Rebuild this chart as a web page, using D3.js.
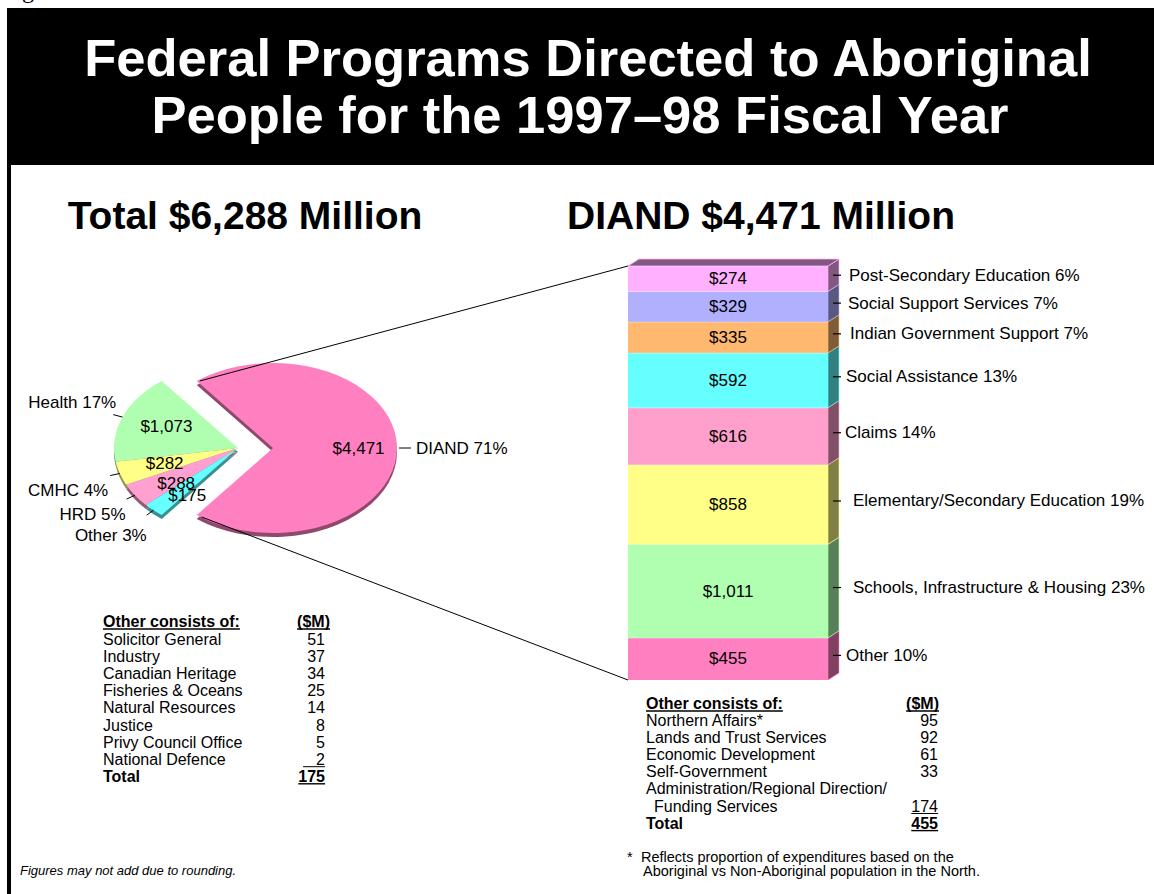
<!DOCTYPE html>
<html><head><meta charset="utf-8">
<script src="https://cdn.jsdelivr.net/npm/d3@7"></script>
<style>
body{margin:0;background:#fff}
svg{display:block}
text{font-family:"Liberation Sans",Arial,Helvetica,sans-serif;fill:#000}
</style>
</head><body>
<svg id="c" width="1154" height="894"></svg>
<script>
// ---------------- DATA ----------------
const titleLines = ["Federal Programs Directed to Aboriginal", "People for the 1997\u201398 Fiscal Year"];
const leftSubtitle = "Total $6,288 Million";
const rightSubtitle = "DIAND $4,471 Million";

const pieCategories = ["Health", "CMHC", "HRD", "Other", "DIAND"];
const pieValues = [1073, 282, 288, 175, 4471];
const piePercents = [17, 4, 5, 3, 71];

// bottom to top
const barCategories = ["Other", "Schools, Infrastructure & Housing", "Elementary/Secondary Education", "Claims",
  "Social Assistance", "Indian Government Support", "Social Support Services", "Post-Secondary Education"];
const barValues = [455, 1011, 858, 616, 592, 335, 329, 274];
const barPercents = [10, 23, 19, 14, 13, 7, 7, 6];

const leftTableNames = ["Solicitor General", "Industry", "Canadian Heritage", "Fisheries & Oceans",
  "Natural Resources", "Justice", "Privy Council Office", "National Defence"];
const leftTableValues = [51, 37, 34, 25, 14, 8, 5, 2];
const leftTableTotal = 175;

const rightTableNames = ["Northern Affairs*", "Lands and Trust Services", "Economic Development", "Self-Government",
  "Administration/Regional Direction/|Funding Services"];
const rightTableValues = [95, 92, 61, 33, 174];
const rightTableTotal = 455;

const footLeft = "Figures may not add due to rounding.";
const footRight = ["Reflects proportion of expenditures based on the", "Aboriginal vs Non-Aboriginal population in the North."];

// ---------------- STYLE ----------------
const pieColors = ["#b0ffb0", "#ffff88", "#ffa0d0", "#66ffff", "#ff80c0"];
const barColors = ["#ff80c0", "#b0ffb0", "#ffff88", "#ffa0cc", "#66ffff", "#ffb870", "#b0b0ff", "#ffb0ff"];
const pieLabelR = [0.62, 0.62, 0.6, 0.6, 0.69];
const pieLabelDy = [-2, 0, 7, 10, 0];
const pieOutOffsets = [[3, -12], [-2, 15], [-1, 15], [0, 20]];
const barLabelGap = [18, 25, 25, 17, 18, 22, 20, 21];

const svg = d3.select("#c");
const W = 1154, H = 894;
const fmt = d3.format("$,.0f");

// background / frame
svg.append("rect").attr("width", W).attr("height", H).attr("fill", "#fff");
svg.append("text").attr("x", 2).attr("y", -2)
  .style("font-family", "'Liberation Serif',serif").attr("font-size", 24).text("Figure");
svg.append("rect").attr("x", 7).attr("y", 8).attr("width", W - 7).attr("height", 157).attr("fill", "#000");
svg.append("rect").attr("x", 7).attr("y", 8).attr("width", 4).attr("height", H - 8).attr("fill", "#000");

// title
svg.selectAll("text.title").data(titleLines).join("text").attr("class", "title")
  .attr("x", (d, i) => i ? 580 : 588).attr("y", (d, i) => 76 + i * 57)
  .attr("text-anchor", "middle").attr("font-size", 52.5).attr("font-weight", "bold")
  .style("fill", "#fff").text(d => d);

// subtitles
svg.append("text").attr("x", 245).attr("y", 229).attr("text-anchor", "middle")
  .attr("font-size", 39).attr("font-weight", "bold").text(leftSubtitle);
svg.append("text").attr("x", 761).attr("y", 229).attr("text-anchor", "middle")
  .attr("font-size", 39).attr("font-weight", "bold").text(rightSubtitle);

// ---------------- PIE ----------------
const cx0 = 255, cy0 = 448, rx = 124, ry = 85, depth = 4;
const total = d3.sum(pieValues);
const othersShare = 1 - pieValues[4] / total;
const startA = (270 + othersShare * 180) * Math.PI / 180;
const pieGen = d3.pie().sort(null).value(d => d).startAngle(startA).endAngle(startA - 2 * Math.PI);
const arcs = pieGen(pieValues);
const arcGen = d3.arc().innerRadius(0).outerRadius(rx);
const explode = [17, 17, 17, 17, 18];
function off(i) {
  const m = i === 4 ? Math.PI / 2 : 3 * Math.PI / 2;
  return [explode[i] * Math.sin(m), -explode[i] * Math.cos(m) * ry / rx];
}
function pt(a, r, i) {
  const o = off(i);
  return [cx0 + o[0] + r * rx * Math.sin(a), cy0 + o[1] - r * ry * Math.cos(a)];
}
const pieG = svg.append("g");
arcs.forEach((a, i) => {
  const o = off(i);
  pieG.append("path").attr("d", arcGen(a))
    .attr("transform", `translate(${cx0 + o[0]},${cy0 + o[1] + depth}) scale(1,${ry / rx})`)
    .attr("fill", d3.color(pieColors[i]).darker(1.6));
});
arcs.forEach((a, i) => {
  const o = off(i);
  pieG.append("path").attr("d", arcGen(a))
    .attr("transform", `translate(${cx0 + o[0]},${cy0 + o[1]}) scale(1,${ry / rx})`)
    .attr("fill", pieColors[i]);
});
// inside value labels
arcs.forEach((a, i) => {
  const mid = (a.startAngle + a.endAngle) / 2;
  const p = pt(mid, pieLabelR[i], i);
  pieG.append("text").attr("x", p[0]).attr("y", p[1] + pieLabelDy[i]).attr("text-anchor", "middle")
    .attr("dominant-baseline", "central").attr("font-size", 17).text(fmt(a.data));
});
// outside labels
arcs.forEach((a, i) => {
  const mid = (a.startAngle + a.endAngle) / 2;
  if (i === 4) {
    const p0 = pt(mid, 1.0, i);
    pieG.append("line").attr("x1", p0[0] + 2).attr("x2", p0[0] + 14).attr("y1", p0[1]).attr("y2", p0[1])
      .attr("stroke", "#000").attr("stroke-width", 1);
    pieG.append("text").attr("x", p0[0] + 19).attr("y", p0[1]).attr("dominant-baseline", "central")
      .attr("font-size", 17).text(`${pieCategories[i]} ${piePercents[i]}%`);
  } else {
    const p0 = pt(mid, 1.0, i), p1 = pt(mid, 1.08, i);
    pieG.append("line").attr("x1", p0[0]).attr("y1", p0[1]).attr("x2", p1[0]).attr("y2", p1[1])
      .attr("stroke", "#000").attr("stroke-width", 1);
    pieG.append("text").attr("x", p1[0] + pieOutOffsets[i][0]).attr("y", p1[1] + pieOutOffsets[i][1])
      .attr("text-anchor", "end").attr("dominant-baseline", "central")
      .attr("font-size", 17).text(`${pieCategories[i]} ${piePercents[i]}%`);
  }
});

// ---------------- STACKED BAR ----------------
const bx = 628, bw = 200, ddx = 11, ddy = -7;
const barTotal = d3.sum(barValues);
const y = d3.scaleLinear().domain([0, barTotal]).range([680, 266]);
const cum = d3.cumsum(barValues);
const segs = barValues.map((v, i) => ({ v, i, y0: i ? cum[i - 1] : 0, y1: cum[i] }));
const barG = svg.append("g");

// connector lines
const dA = arcs[4];
const up = pt(dA.endAngle, 1.0, 4), lo = pt(dA.startAngle, 1.0, 4);
svg.append("line").attr("x1", up[0] + 3).attr("y1", up[1]).attr("x2", bx).attr("y2", y(barTotal))
  .attr("stroke", "#000").attr("stroke-width", 1);
svg.append("line").attr("x1", lo[0] + 5).attr("y1", lo[1] + 2).attr("x2", bx).attr("y2", y(0))
  .attr("stroke", "#000").attr("stroke-width", 1);

segs.forEach(s => {
  const yt = y(s.y1), yb = y(s.y0);
  const c = d3.rgb(barColors[s.i]);
  const side = d3.rgb(c.r * 0.5, c.g * 0.5, c.b * 0.5);
  barG.append("path")
    .attr("d", `M${bx + bw},${yt}L${bx + bw + ddx},${yt + ddy}L${bx + bw + ddx},${yb + ddy}L${bx + bw},${yb}Z`)
    .attr("fill", side).attr("stroke", c.brighter(0.2)).attr("stroke-width", 0.6);
  barG.append("rect").attr("x", bx).attr("y", yt).attr("width", bw).attr("height", yb - yt)
    .attr("fill", c);
  barG.append("line").attr("x1", bx).attr("x2", bx + bw).attr("y1", yt).attr("y2", yt)
    .attr("stroke", "#fff").attr("stroke-opacity", 0.6).attr("stroke-width", 1);
  barG.append("text").attr("x", bx + bw / 2).attr("y", (yt + yb) / 2).attr("text-anchor", "middle")
    .attr("dominant-baseline", "central").attr("font-size", 17).text(fmt(s.v));
  const ym = (yt + yb) / 2 + ddy / 2;
  barG.append("line").attr("x1", bx + bw + 5).attr("x2", bx + bw + 13).attr("y1", ym).attr("y2", ym)
    .attr("stroke", "#000").attr("stroke-width", 1.2);
  barG.append("text").attr("x", bx + bw + barLabelGap[s.i]).attr("y", ym).attr("dominant-baseline", "central")
    .attr("font-size", 17).text(`${barCategories[s.i]} ${barPercents[s.i]}%`);
});
// top face
{
  const yt = y(barTotal);
  const c = d3.rgb(barColors[barColors.length - 1]);
  barG.append("path")
    .attr("d", `M${bx},${yt}L${bx + ddx},${yt + ddy}L${bx + bw + ddx},${yt + ddy}L${bx + bw},${yt}Z`)
    .attr("fill", d3.rgb(c.r * 0.5, c.g * 0.5, c.b * 0.5)).attr("stroke", c).attr("stroke-width", 0.8);
}

// ---------------- TABLES ----------------
function underline(sel, bold, extraLeft) {
  const b = sel.node().getBBox();
  const yy = +sel.attr("y") + 2;
  svg.append("line").attr("x1", b.x - (extraLeft || 0)).attr("x2", b.x + b.width).attr("y1", yy).attr("y2", yy)
    .attr("stroke", "#000").attr("stroke-width", bold ? 1.4 : 1);
}
const tfs = 16, rowH = 17.1;
// left table
{
  const x = 103, vr = 325, hdrR = 330, y0 = 627;
  underline(svg.append("text").attr("x", x).attr("y", y0).attr("font-size", tfs).attr("font-weight", "bold").text("Other consists of:"), true);
  underline(svg.append("text").attr("x", hdrR).attr("y", y0).attr("text-anchor", "end").attr("font-size", tfs).attr("font-weight", "bold").text("($M)"), true);
  leftTableNames.forEach((n, i) => {
    const yy = y0 + 18 + i * rowH;
    svg.append("text").attr("x", x).attr("y", yy).attr("font-size", tfs).text(n);
    const t = svg.append("text").attr("x", vr).attr("y", yy).attr("text-anchor", "end").attr("font-size", tfs).text(leftTableValues[i]);
    if (i === leftTableNames.length - 1) underline(t, false, 13);
  });
  const yt = y0 + 18 + leftTableNames.length * rowH;
  svg.append("text").attr("x", x).attr("y", yt).attr("font-size", tfs).attr("font-weight", "bold").text("Total");
  underline(svg.append("text").attr("x", vr).attr("y", yt).attr("text-anchor", "end").attr("font-size", tfs).attr("font-weight", "bold").text(leftTableTotal), true);
}
// right table
{
  const x = 646, vr = 938, hdrR = 939, y0 = 709;
  underline(svg.append("text").attr("x", x).attr("y", y0).attr("font-size", tfs).attr("font-weight", "bold").text("Other consists of:"), true);
  underline(svg.append("text").attr("x", hdrR).attr("y", y0).attr("text-anchor", "end").attr("font-size", tfs).attr("font-weight", "bold").text("($M)"), true);
  let row = 0;
  rightTableNames.forEach((n, i) => {
    const parts = n.split("|");
    parts.forEach((p, k) => {
      svg.append("text").attr("x", k ? x + 8 : x).attr("y", y0 + 17 + row * rowH).attr("font-size", tfs).text(p);
      if (k < parts.length - 1) row++;
    });
    const t = svg.append("text").attr("x", vr).attr("y", y0 + 17 + row * rowH).attr("text-anchor", "end").attr("font-size", tfs).text(rightTableValues[i]);
    if (i === rightTableNames.length - 1) underline(t, false);
    row++;
  });
  svg.append("text").attr("x", x).attr("y", y0 + 17 + row * rowH).attr("font-size", tfs).attr("font-weight", "bold").text("Total");
  underline(svg.append("text").attr("x", vr).attr("y", y0 + 17 + row * rowH).attr("text-anchor", "end").attr("font-size", tfs).attr("font-weight", "bold").text(rightTableTotal), true);
}

// ---------------- FOOTNOTES ----------------
svg.append("text").attr("x", 20).attr("y", 875).attr("font-size", 13).attr("font-style", "italic").text(footLeft);
svg.append("text").attr("x", 627).attr("y", 862).attr("font-size", 14.5).text("*");
footRight.forEach((l, i) => {
  svg.append("text").attr("x", i ? 643 : 641).attr("y", 862 + i * 14).attr("font-size", 14.5).text(l);
});
</script>
</body></html>
